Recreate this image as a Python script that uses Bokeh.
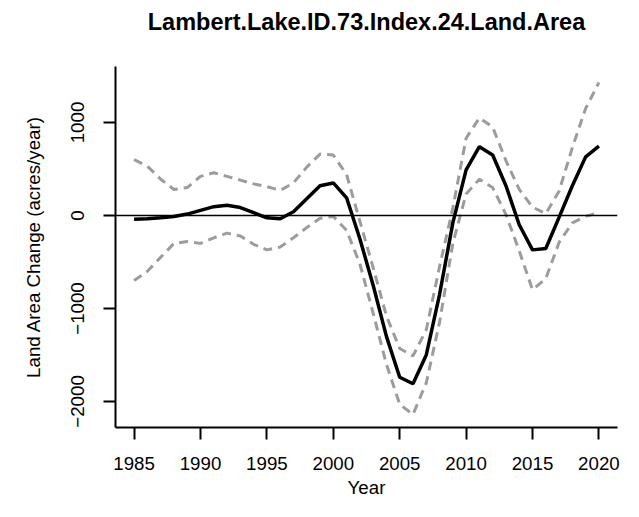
from bokeh.plotting import figure
from bokeh.models import Range1d, FixedTicker, Span, Title
from bokeh.embed import file_html
from bokeh.resources import INLINE

title_text = "Lambert.Lake.ID.73.Index.24.Land.Area"
years = list(range(1985, 2021))
mean_change = [-40, -35, -25, -10, 15, 55, 95, 110, 85, 30, -25, -35, 40, 180, 320, 350, 190,
               -250, -750, -1300, -1740, -1810, -1500, -850, -80, 490, 740, 650, 320, -100,
               -370, -355, -20, 320, 630, 745]
upper_ci = [600, 530, 390, 280, 300, 420, 460, 420, 380, 340, 310, 270, 350, 520, 660, 650, 440,
            -60, -560, -1080, -1430, -1510, -1230, -550, 80, 830, 1050, 950, 590, 280,
            90, 20, 260, 730, 1150, 1430]
lower_ci = [-700, -600, -450, -300, -280, -300, -240, -190, -220, -310, -370, -340, -240, -130, -30, -10, -160,
            -520, -1050, -1600, -2030, -2140, -1800, -1150, -300, 230, 390, 300, 10, -380,
            -800, -680, -290, -80, -10, 30]
x_ticks = [1985, 1990, 1995, 2000, 2005, 2010, 2015, 2020]
y_ticks = [-2000, -1000, 0, 1000]

FONT = "Liberation Sans"

p = figure(width=623, height=501, output_backend="svg", toolbar_location=None,
           x_range=Range1d(1983.6, 2021.4), y_range=Range1d(-2280, 1602),
           min_border_left=115, min_border_right=6, min_border_top=66, min_border_bottom=74)
p.title = None

p.outline_line_color = None
p.grid.visible = False
p.background_fill_color = "white"
p.border_fill_color = "white"

# spacer between frame and title (closest to the frame)
p.add_layout(Title(text=" ", text_font_size="2px", standoff=28), "above")
p.add_layout(Title(text=title_text, text_font=FONT, text_font_size="23.5px",
                   text_font_style="bold", align="center", vertical_align="bottom",
                   standoff=0, offset=0, text_color="black"), "above")

for ax in (p.xaxis[0], p.yaxis[0]):
    ax.axis_line_width = 2
    ax.axis_line_color = "black"
    ax.major_tick_line_width = 2
    ax.major_tick_line_color = "black"
    ax.major_tick_in = 0
    ax.major_tick_out = 12
    ax.minor_tick_line_color = None
    ax.major_label_text_font = FONT
    ax.major_label_text_font_size = "18.7px"
    ax.major_label_text_color = "black"
    ax.axis_label_text_font = FONT
    ax.axis_label_text_font_size = "18.7px"
    ax.axis_label_text_font_style = "normal"
    ax.axis_label_text_color = "black"

p.xaxis.ticker = FixedTicker(ticks=x_ticks)
p.yaxis.ticker = FixedTicker(ticks=y_ticks)
p.yaxis.major_label_orientation = "vertical"
p.xaxis.major_label_standoff = 17
p.yaxis.major_label_standoff = 19
p.xaxis.axis_label = "Year"
p.yaxis.axis_label = "Land Area Change (acres/year)"
p.xaxis.axis_label_standoff = 4
p.yaxis.axis_label_standoff = 25

p.add_layout(Span(location=0, dimension="width", line_color="black", line_width=1.5))

p.line(years, upper_ci, line_color="#9c9c9c", line_width=3, line_dash="9 6")
p.line(years, lower_ci, line_color="#9c9c9c", line_width=3, line_dash="9 6")
p.line(years, mean_change, line_color="black", line_width=3.5)

open("out.html", "w").write(file_html(p, INLINE))
